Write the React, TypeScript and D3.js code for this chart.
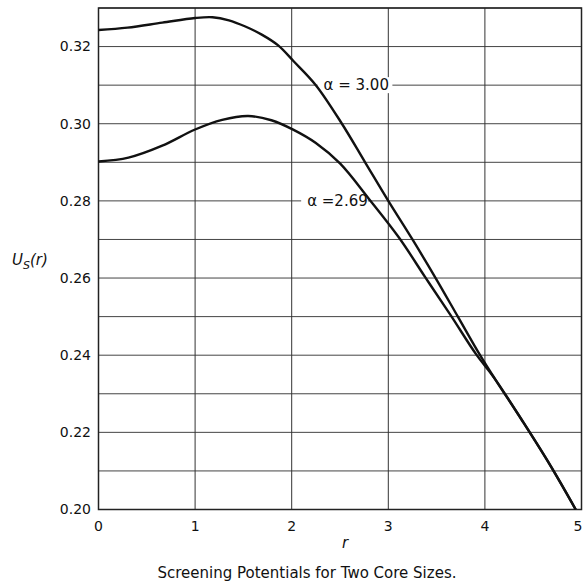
import React from "react";
import * as d3 from "d3";

const xTicks = [0, 1, 2, 3, 4, 5];
const yTicks = [0.2, 0.22, 0.24, 0.26, 0.28, 0.3, 0.32];
const yGrid = [0.2, 0.21, 0.22, 0.23, 0.24, 0.25, 0.26, 0.27, 0.28, 0.29, 0.3, 0.31, 0.32, 0.33];

const r300 = [0, 0.3, 0.66, 1.0, 1.18, 1.35, 1.52, 1.69, 1.86, 2.02, 2.25, 2.52, 2.76, 3.0, 3.25, 3.49, 3.72, 3.95, 4.1, 4.4, 4.68, 4.94];
const u300 = [0.3243, 0.3249, 0.3262, 0.3274, 0.3276, 0.3268, 0.3252, 0.3231, 0.3203, 0.3162, 0.31, 0.3, 0.29, 0.28, 0.27, 0.26, 0.25, 0.24, 0.234, 0.2225, 0.2113, 0.2];

const r269 = [0, 0.31, 0.66, 1.0, 1.28, 1.55, 1.79, 2.02, 2.25, 2.5, 2.8, 3.11, 3.38, 3.65, 3.91, 4.1, 4.4, 4.68, 4.94];
const u269 = [0.2902, 0.2912, 0.2943, 0.2985, 0.301, 0.302, 0.3009, 0.2984, 0.295, 0.2897, 0.2805, 0.2705, 0.2603, 0.2502, 0.2402, 0.234, 0.2225, 0.2113, 0.2];

const labels = [
  { text: "α = 3.00", r: 2.33, u: 0.31, padL: 6, padR: 4 },
  { text: "α =2.69", r: 2.16, u: 0.28, padL: 6, padR: 4 },
];

const FONT = "DejaVu Sans, sans-serif";

export default function App() {
  const x = d3.scaleLinear().domain([0, 5]).range([98.5, 581.5]);
  const y = d3.scaleLinear().domain([0.2, 0.33]).range([509.5, 8]);

  const line = d3
    .line<[number, number]>()
    .x((d) => x(d[0]))
    .y((d) => y(d[1]))
    .curve(d3.curveCatmullRom.alpha(0.5));

  const d300 = line(r300.map((r, i) => [r, u300[i]] as [number, number])) || "";
  const d269 = line(r269.map((r, i) => [r, u269[i]] as [number, number])) || "";

  const fontSize = 14;
  const labelWidth = (t: string) => t.length * 8.1;

  return (
    <svg
      width={583}
      height={581}
      style={{ position: "absolute", left: 0, top: 0, background: "#fff" }}
      fontFamily={FONT}
    >
      <rect x={0} y={0} width={583} height={581} fill="#fff" />
      {yGrid.map((v) => (
        <line key={"gy" + v} x1={x(0)} x2={x(5)} y1={y(v)} y2={y(v)} stroke="#444" strokeWidth={1} />
      ))}
      {xTicks.map((v) => (
        <line key={"gx" + v} x1={x(v)} x2={x(v)} y1={y(0.2)} y2={y(0.33)} stroke="#333" strokeWidth={1} />
      ))}
      <rect x={x(0)} y={y(0.33)} width={x(5) - x(0)} height={y(0.2) - y(0.33)} fill="none" stroke="#222" strokeWidth={1.5} />

      {labels.map((l) => {
        const w = labelWidth(l.text);
        return (
          <g key={l.text}>
            <rect x={x(l.r) - l.padL} y={y(l.u) - 8} width={w + l.padL + l.padR} height={16} fill="#fff" />
            <text x={x(l.r)} y={y(l.u)} dy="0.35em" fontSize={15} fill="#111">
              {l.text}
            </text>
          </g>
        );
      })}

      <path d={d300} fill="none" stroke="#111" strokeWidth={2.4} />
      <path d={d269} fill="none" stroke="#111" strokeWidth={2.4} />

      {yTicks.map((v) => (
        <text key={"yt" + v} x={91} y={y(v)} dy="0.35em" textAnchor="end" fontSize={fontSize} fill="#111">
          {v.toFixed(2)}
        </text>
      ))}
      {xTicks.map((v) => (
        <text key={"xt" + v} x={Math.min(x(v), 578)} y={531} textAnchor="middle" fontSize={fontSize} fill="#111">
          {v}
        </text>
      ))}

      <text x={345} y={548} textAnchor="middle" fontSize={15} fontStyle="italic" fill="#111">
        r
      </text>
      <text x={12} y={265} fontSize={15} fontStyle="italic" fill="#111">
        U
        <tspan fontSize={11} dy={4}>S</tspan>
        <tspan fontSize={15} dy={-4}>(r)</tspan>
      </text>

      <text x={307} y={578} textAnchor="middle" fontSize={15} fill="#111">
        Screening Potentials for Two Core Sizes.
      </text>
    </svg>
  );
}
